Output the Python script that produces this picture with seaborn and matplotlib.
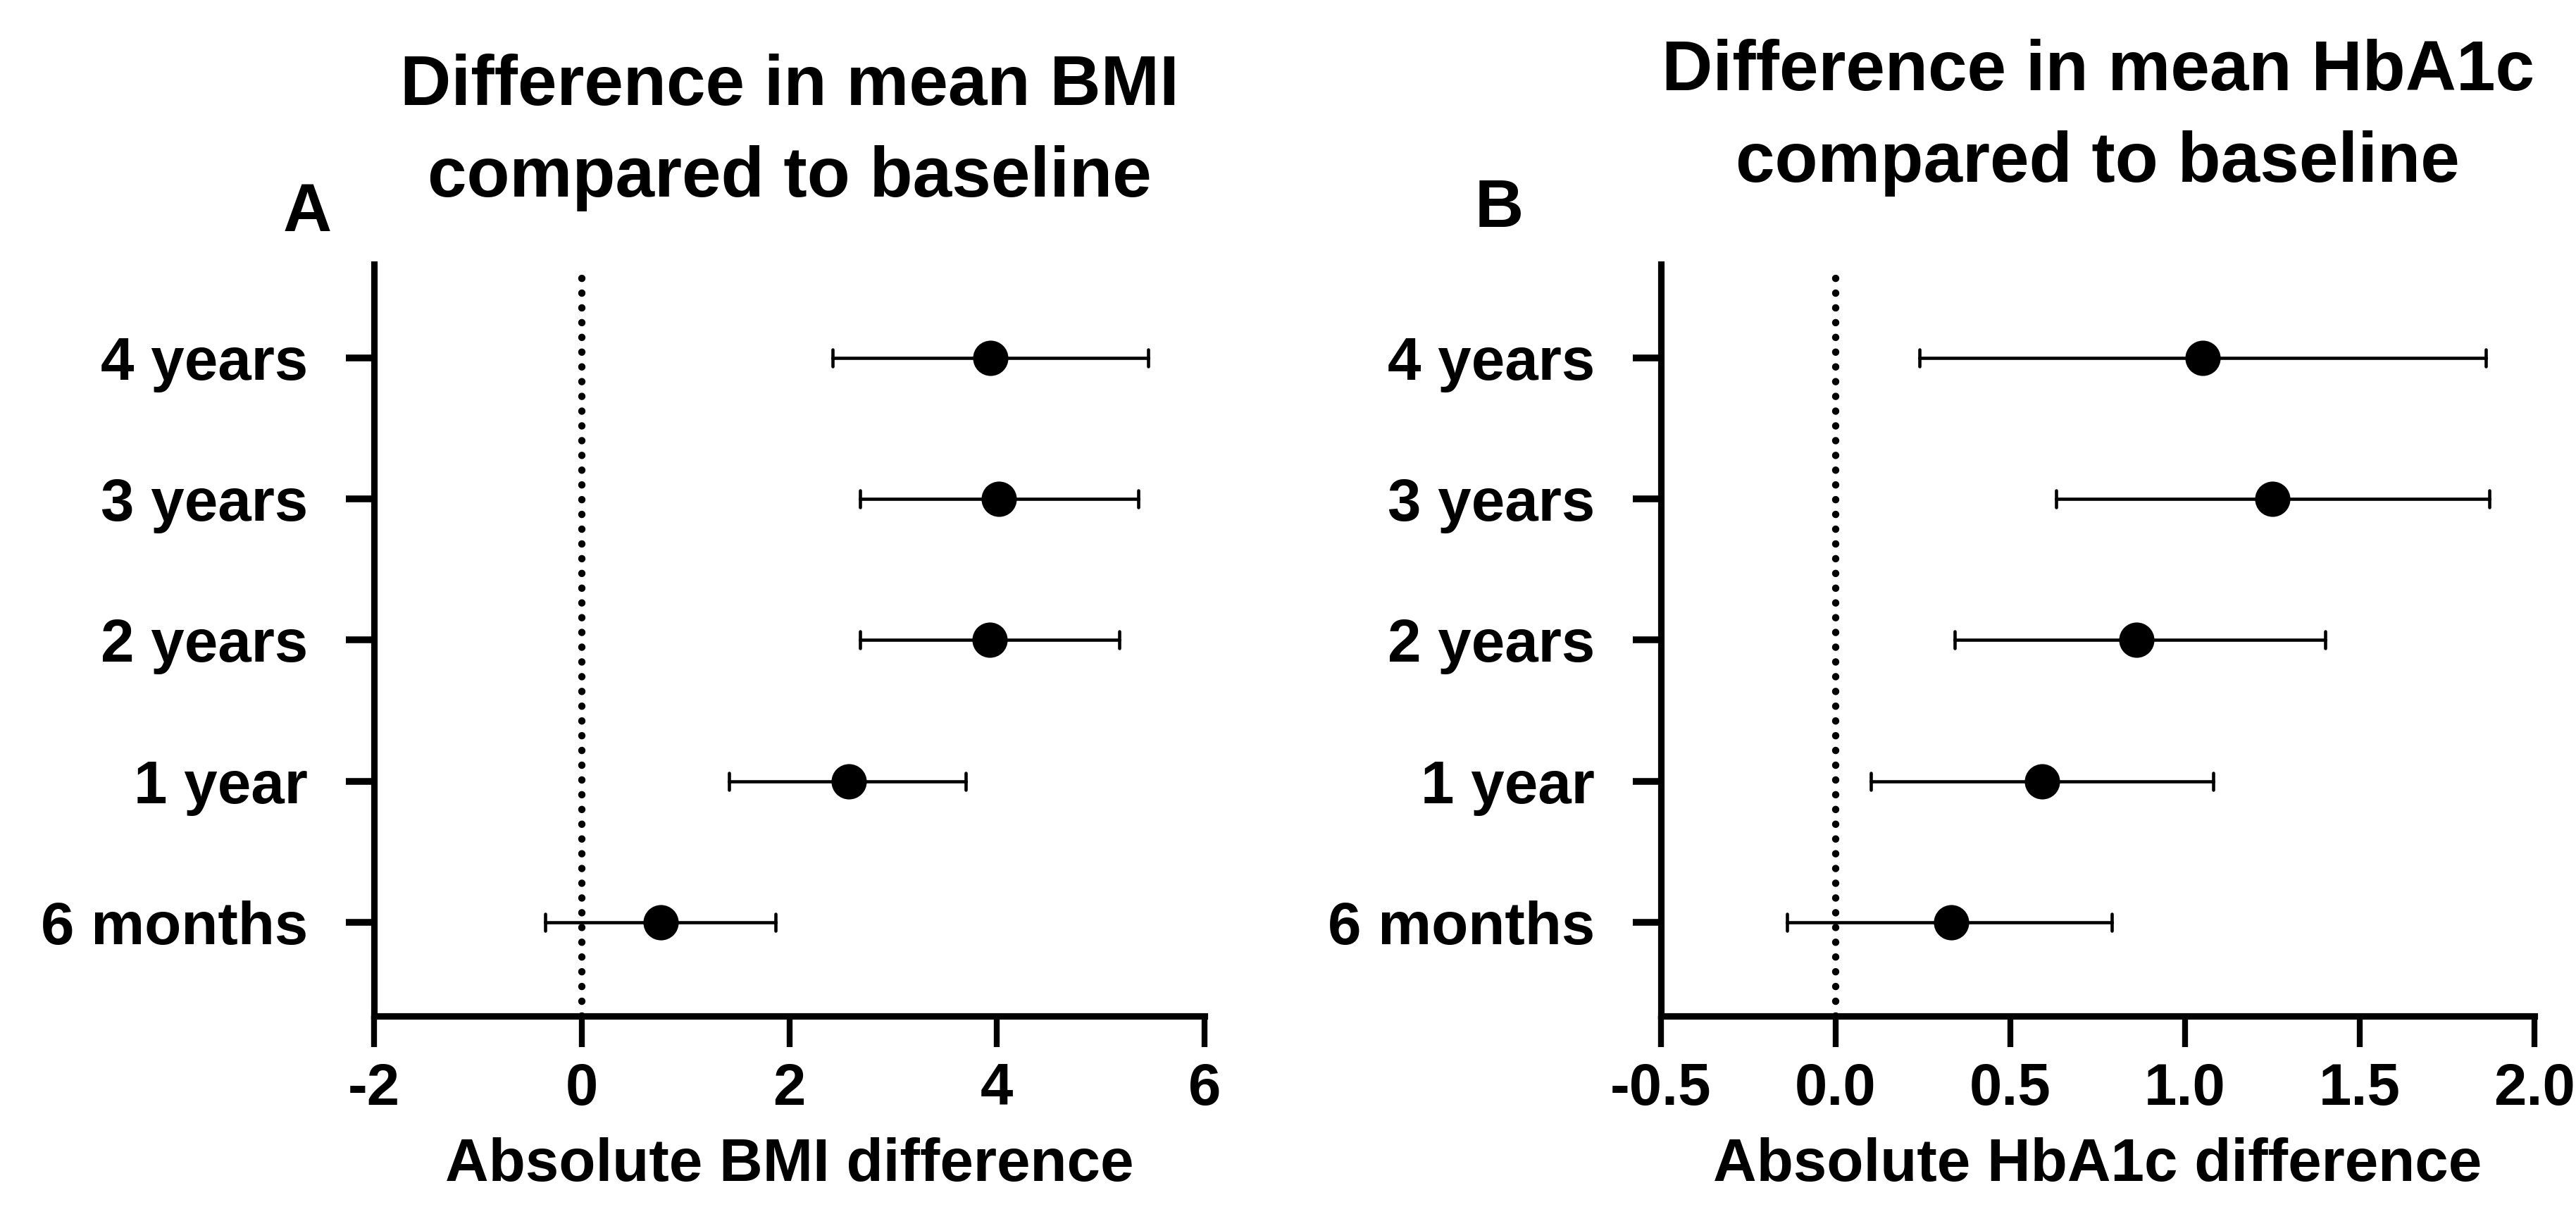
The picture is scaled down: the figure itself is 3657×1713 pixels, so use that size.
import pandas as pd
import seaborn as sns
import matplotlib.pyplot as plt

# Time points, top to bottom
timepoints = ['4 years', '3 years', '2 years', '1 year', '6 months']

# Mean difference in BMI with lower / upper CI
bmi_mean = [3.94, 4.02, 3.93, 2.57, 0.76]
bmi_low = [2.42, 2.68, 2.68, 1.42, -0.35]
bmi_high = [5.46, 5.36, 5.18, 3.70, 1.87]

# Mean difference in HbA1c with lower / upper CI
hba1c_mean = [1.05, 1.25, 0.86, 0.59, 0.33]
hba1c_low = [0.24, 0.63, 0.34, 0.10, -0.14]
hba1c_high = [1.86, 1.87, 1.40, 1.08, 0.79]

bmi_ticks = [-2, 0, 2, 4, 6]
hba1c_ticks = [-0.5, 0.0, 0.5, 1.0, 1.5, 2.0]


def long_table(low, mean, high):
    # three rows per time point: median = mean, min/max = CI ends
    rows = []
    for t, lo, m, hi in zip(timepoints, low, mean, high):
        for v in (lo, m, hi):
            rows.append({'timepoint': t, 'value': v})
    return pd.DataFrame(rows)


sns.set_style('ticks', rc={'axes.edgecolor': 'black', 'text.color': 'black',
                           'axes.labelcolor': 'black', 'xtick.color': 'black',
                           'ytick.color': 'black'})
plt.rcParams['font.family'] = ['Liberation Sans', 'DejaVu Sans']
plt.rcParams['font.weight'] = 'bold'
plt.rcParams['axes.unicode_minus'] = False

fig = plt.figure(figsize=(12.19, 5.71), dpi=300)
ax_a = fig.add_axes([0.1452, 0.1582, 0.3224, 0.623])
ax_b = fig.add_axes([0.6448, 0.1582, 0.3391, 0.623])

panels = [
    (ax_a, long_table(bmi_low, bmi_mean, bmi_high), bmi_ticks, '%d',
     'Difference in mean BMI\ncompared to baseline', 23, 'Absolute BMI difference'),
    (ax_b, long_table(hba1c_low, hba1c_mean, hba1c_high), hba1c_ticks, '%.1f',
     'Difference in mean HbA1c\ncompared to baseline', 28, 'Absolute HbA1c difference'),
]

for ax, df, ticks, fmt, title, tpad, xlabel in panels:
    # dotted reference line at zero
    ax.axvline(0, color='black', lw=2.5, linestyle=(0, (0.01, 2.0)),
               dash_capstyle='round', zorder=1)
    sns.pointplot(data=df, x='value', y='timepoint', order=timepoints,
                  estimator='median', errorbar=lambda v: (v.min(), v.max()),
                  color='black', linestyle='none', marker='o', markersize=10,
                  capsize=0.12, err_kws={'linewidth': 1.1}, ax=ax)
    ax.set_xlim(ticks[0], ticks[-1])
    ax.set_xticks(ticks)
    ax.xaxis.set_major_formatter(plt.FormatStrFormatter(fmt))
    ax.set_ylim(4.665, -0.665)
    sns.despine(ax=ax)
    for side in ('left', 'bottom'):
        ax.spines[side].set_linewidth(2.2)
    ax.tick_params(axis='x', width=2.0, length=10.5, labelsize=20, pad=5)
    ax.tick_params(axis='y', width=2.3, length=9.5, labelsize=20.5, pad=13)
    for lab in ax.get_xticklabels() + ax.get_yticklabels():
        lab.set_fontweight('bold')
    ax.set_ylabel('')
    ax.set_xlabel(xlabel, fontsize=20.5, fontweight='bold', labelpad=7)
    ax.set_title(title, fontsize=24, fontweight='bold', pad=tpad,
                 linespacing=1.49)

fig.text(402 / 3657, 1 - 328 / 1713, 'A', fontsize=23, fontweight='bold',
         ha='left', va='baseline')
fig.text(2094 / 3657, 1 - 322 / 1713, 'B', fontsize=23, fontweight='bold',
         ha='left', va='baseline')

fig.savefig('out.png', dpi=300)
